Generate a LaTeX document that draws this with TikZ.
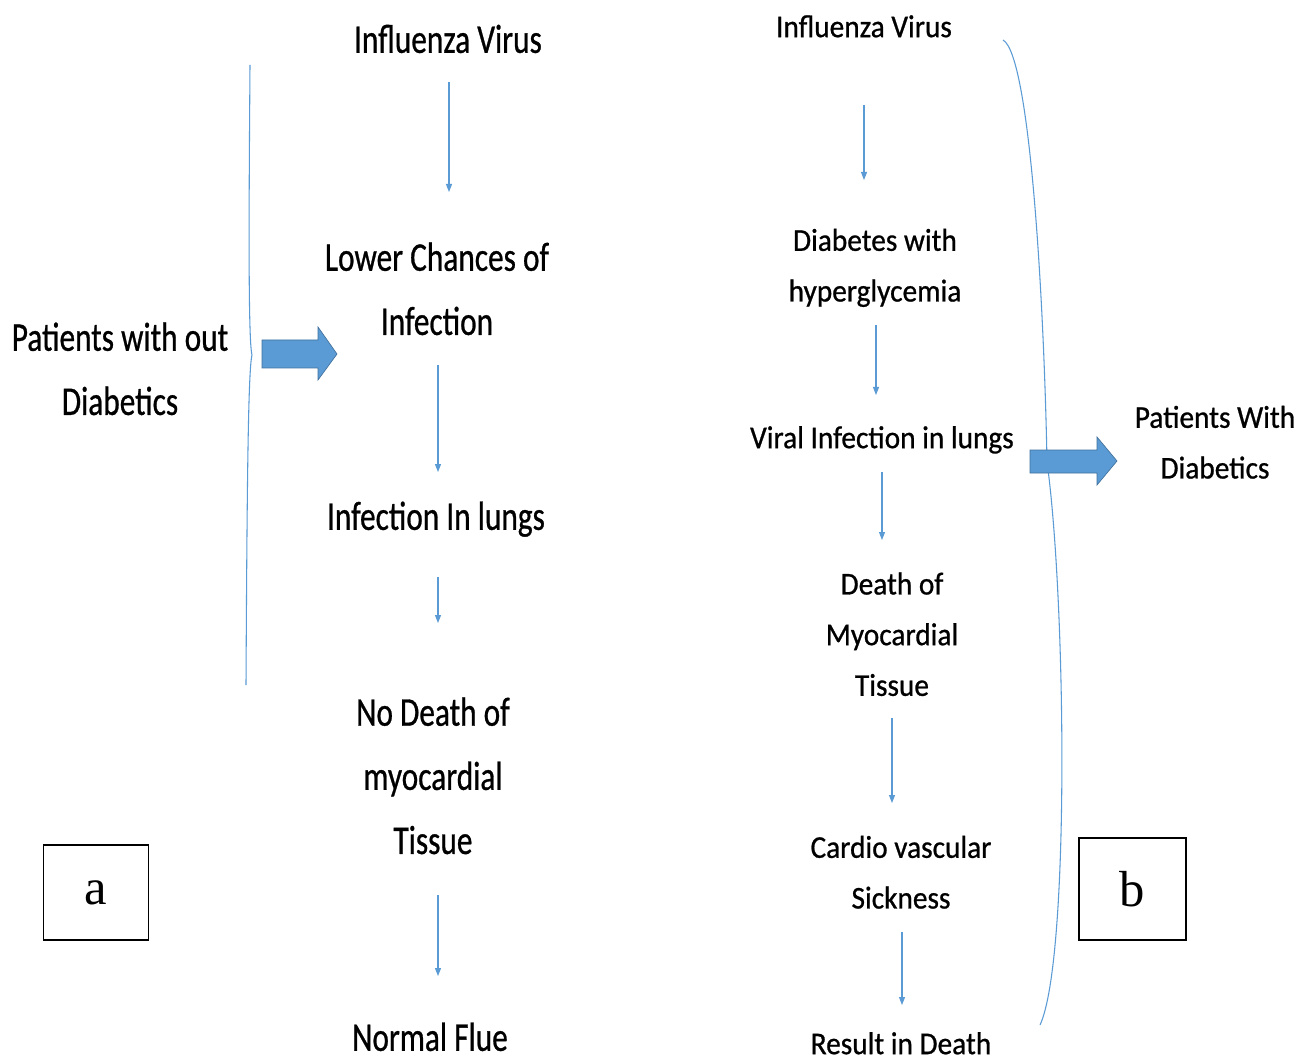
\documentclass[tikz,border=0pt]{standalone}
\usepackage{fontspec}
\setmainfont{Carlito}
\newfontfamily\calfont{Carlito}[FakeBold=0.8]
\newfontfamily\tnr{Liberation Serif}
\usetikzlibrary{arrows.meta}
\definecolor{offblue}{HTML}{5B9BD5}
\definecolor{offdark}{HTML}{41719C}
\setlength{\tabcolsep}{0pt}
\newcommand{\lefttxt}[1]{\scalebox{1}[1.3]{\calfont\fontsize{23.5}{37}\selectfont\begin{tabular}{c}#1\end{tabular}}}
\newcommand{\righttxt}[1]{\scalebox{1}[1.08]{\calfont\fontsize{22}{35.2}\selectfont\begin{tabular}{c}#1\end{tabular}}}
\tikzset{
  txt/.style={inner sep=0pt, text=black},
  conn/.style={draw=offblue, line width=0.8pt, -{Triangle[length=6pt,width=4.5pt]}},
  brace/.style={draw=offblue, line width=0.8pt},
  blockarrow/.style={fill=offblue, draw=offdark, line width=0.5pt},
  lblbox/.style={draw=black, line width=1.2pt, minimum width=79pt, inner sep=0pt, font=\tnr\fontsize{38}{40}\selectfont}
}
\begin{document}
\begin{tikzpicture}[x=0.75pt, y=-0.75pt]
\path[fill=white, use as bounding box] (0,0) rectangle (1310,1062);

% ---- left column ----
\node[txt] (l1) at (448,40) {\lefttxt{Influenza Virus}};
\node[txt] (l2) at (437,290) {\lefttxt{Lower Chances of\\Infection}};
\node[txt] (l3) at (436,517) {\lefttxt{Infection In lungs}};
\node[txt] (l4) at (433,777) {\lefttxt{No Death of\\myocardial\\Tissue}};
\node[txt] (l5) at (430,1038) {\lefttxt{Normal Flue}};
\node[txt] (lp) at (120,370) {\lefttxt{Patients with out\\Diabetics}};

\coordinate (la1s) at (449,82);  \coordinate (la1e) at (449,192);
\coordinate (la2s) at (438,365); \coordinate (la2e) at (438,472);
\coordinate (la3s) at (438,577); \coordinate (la3e) at (438,623);
\coordinate (la4s) at (438,895); \coordinate (la4e) at (438,976);
\draw[conn] (la1s) -- (la1e);
\draw[conn] (la2s) -- (la2e);
\draw[conn] (la3s) -- (la3e);
\draw[conn] (la4s) -- (la4e);

% left brace
\coordinate (lbt) at (250,65);
\coordinate (lbm) at (252,355);
\coordinate (lbb) at (246,685);
\draw[brace] (lbt) .. controls (249,200) and (248,340) .. (lbm)
             .. controls (248,370) and (247,500) .. (lbb);

% left block arrow
\draw[blockarrow] (262,340) -- (318,340) -- (318,327) -- (337,354) -- (318,380) -- (318,368) -- (262,368) -- cycle;

% ---- right column ----
\node[txt] (r1) at (864,27) {\righttxt{Influenza Virus}};
\node[txt] (r2) at (875,266) {\righttxt{Diabetes with\\hyperglycemia}};
\node[txt] (r3) at (882,438) {\righttxt{Viral Infection in lungs}};
\node[txt] (r4) at (892,635) {\righttxt{Death of\\Myocardial\\Tissue}};
\node[txt] (r5) at (901,873) {\righttxt{Cardio vascular\\Sickness}};
\node[txt] (r6) at (901,1044) {\righttxt{Result in Death}};
\node[txt] (rp) at (1215,443) {\righttxt{Patients With\\Diabetics}};

\coordinate (ra1s) at (864,105); \coordinate (ra1e) at (864,180);
\coordinate (ra2s) at (876,325); \coordinate (ra2e) at (876,395);
\coordinate (ra3s) at (882,472); \coordinate (ra3e) at (882,540);
\coordinate (ra4s) at (892,718); \coordinate (ra4e) at (892,803);
\coordinate (ra5s) at (902,932); \coordinate (ra5e) at (902,1005);
\draw[conn] (ra1s) -- (ra1e);
\draw[conn] (ra2s) -- (ra2e);
\draw[conn] (ra3s) -- (ra3e);
\draw[conn] (ra4s) -- (ra4e);
\draw[conn] (ra5s) -- (ra5e);

% right brace
\coordinate (rbt) at (1003,40);
\coordinate (rbm) at (1047,462);
\coordinate (rbb) at (1040,1025);
\draw[brace] (rbt) .. controls (1030,55) and (1044,300) .. (rbm)
             .. controls (1066,600) and (1070,960) .. (rbb);

% right block arrow
\draw[blockarrow] (1030,450) -- (1097,450) -- (1097,437) -- (1117,461) -- (1097,485) -- (1097,473) -- (1030,473) -- cycle;

% label boxes
\node[lblbox, minimum height=71pt] (ba) at (96,892.5) {a};
\node[lblbox, minimum width=80pt, minimum height=76.5pt] (bb) at (1132.5,889) {b};
\end{tikzpicture}
\end{document}
